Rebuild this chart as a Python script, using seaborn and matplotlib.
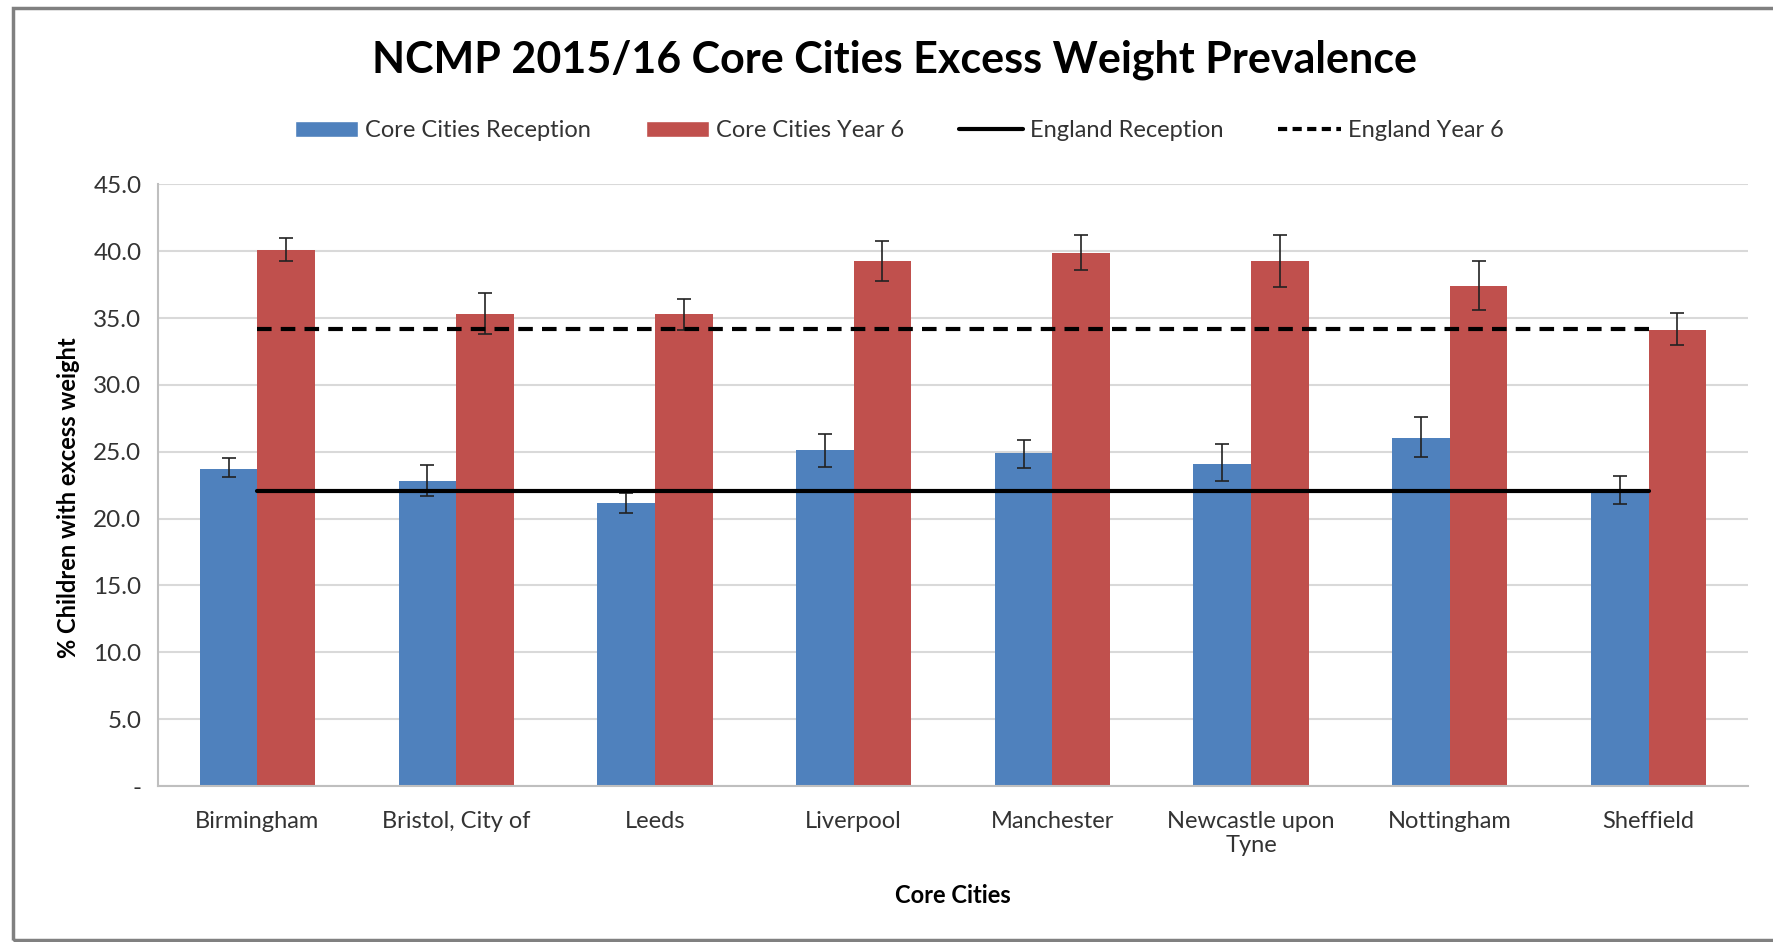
import numpy as np
import pandas as pd
import seaborn as sns
import matplotlib.pyplot as plt
from matplotlib.lines import Line2D
from matplotlib.patches import Patch, Rectangle

# ------------------------------------------------
# DATA
# ------------------------------------------------
cities = ["Birmingham", "Bristol, City of", "Leeds", "Liverpool", "Manchester",
          "Newcastle upon\nTyne", "Nottingham", "Sheffield"]

reception = [23.7, 22.8, 21.2, 25.1, 24.9, 24.1, 26.0, 22.1]
reception_lo = [23.1, 21.7, 20.4, 23.9, 23.8, 22.8, 24.6, 21.1]
reception_hi = [24.5, 24.0, 21.9, 26.3, 25.9, 25.6, 27.6, 23.2]

year6 = [40.1, 35.3, 35.3, 39.3, 39.9, 39.3, 37.4, 34.1]
year6_lo = [39.3, 33.8, 34.1, 37.8, 38.6, 37.3, 35.6, 33.0]
year6_hi = [41.0, 36.9, 36.4, 40.8, 41.2, 41.2, 39.3, 35.4]

england_reception = 22.1
england_year6 = 34.2

y_ticks = [0, 5, 10, 15, 20, 25, 30, 35, 40, 45]

series_names = ["Core Cities Reception", "Core Cities Year 6"]
BLUE = "#4F81BD"
RED = "#C0504D"

df = pd.DataFrame({
    "City": cities * 2,
    "Group": [series_names[0]] * len(cities) + [series_names[1]] * len(cities),
    "Value": reception + year6,
})

# ------------------------------------------------
# FIGURE
# ------------------------------------------------
sns.set_style("white")
plt.rcParams["font.family"] = ["Lato", "DejaVu Sans"]
TXT = "#333333"

fig = plt.figure(figsize=(17.74, 9.42), dpi=100)
ax = fig.add_axes([0.0891, 0.1656, 0.8962, 0.6386])

sns.barplot(data=df, x="City", y="Value", hue="Group", palette=[BLUE, RED],
            width=0.58, saturation=1, errorbar=None, ax=ax, legend=False,
            linewidth=0)

# error bars on each bar
for cont, lo, hi in zip(ax.containers, [reception_lo, year6_lo], [reception_hi, year6_hi]):
    xs = [b.get_x() + b.get_width() / 2 for b in cont]
    ys = np.array([b.get_height() for b in cont])
    ax.errorbar(xs, ys, yerr=[ys - np.array(lo), np.array(hi) - ys], fmt="none",
                ecolor="#222222", elinewidth=1.2, capsize=5, capthick=1.2, zorder=4)

# England reference lines across category centres
pos = np.arange(len(cities))
ax.plot(pos, np.full(len(cities), england_reception), color="black", lw=3, zorder=5)
ax.plot(pos, np.full(len(cities), england_year6), color="black", lw=3,
        ls=(0, (3.5, 2.2)), zorder=5)

# axes styling
ax.set_xlim(-0.5, len(cities) - 0.5)
ax.set_ylim(0, 45)
ax.set_yticks(y_ticks)
ax.set_yticklabels(["-" if v == 0 else f"{v:.1f}" for v in y_ticks])
ax.yaxis.grid(True, color="#D9D9D9", lw=1.5)
ax.set_axisbelow(True)
for s in ["top", "right"]:
    ax.spines[s].set_visible(False)
for s in ["left", "bottom"]:
    ax.spines[s].set_color("#BFBFBF")
    ax.spines[s].set_linewidth(1.5)

ax.tick_params(axis="y", length=6, color="#BFBFBF", width=1.5, labelsize=17.5,
               labelcolor=TXT, pad=6)
ax.set_xticks(np.arange(-0.5, len(cities)), minor=True)
ax.tick_params(axis="x", which="minor", length=6, color="#BFBFBF", width=1.5)
ax.tick_params(axis="x", which="major", length=0, labelsize=17, labelcolor=TXT, pad=18)

ax.set_xlabel("Core Cities", fontsize=17, fontweight="bold", color="black", va="top")
ax.xaxis.set_label_coords(0.5, -0.163)
ax.set_ylabel("% Children with excess weight", fontsize=17, fontweight="bold",
              color="black", va="center")
ax.yaxis.set_label_coords(-0.0566, 0.48)

fig.suptitle("NCMP 2015/16 Core Cities Excess Weight Prevalence", x=0.504, y=0.937,
             va="center", fontsize=31, fontweight="bold", color="black")

handles = [
    Patch(facecolor=BLUE, label=series_names[0]),
    Patch(facecolor=RED, label=series_names[1]),
    Line2D([], [], color="black", lw=3, label="England Reception"),
    Line2D([], [], color="black", lw=3, ls=(0, (2.2, 1.3)), label="England Year 6"),
]
fig.legend(handles=handles, loc="center", bbox_to_anchor=(0.507, 0.861), ncol=4,
           frameon=False, fontsize=17, handlelength=2.7, handleheight=0.7,
           handletextpad=0.3, columnspacing=2.3, labelcolor=TXT)

# chart-area border
fig.patches.append(Rectangle((0.0073, 0.002), 1.2, 0.9895, transform=fig.transFigure,
                             fill=False, edgecolor="#808080", lw=2.5))

fig.savefig("out.png", dpi=100)
